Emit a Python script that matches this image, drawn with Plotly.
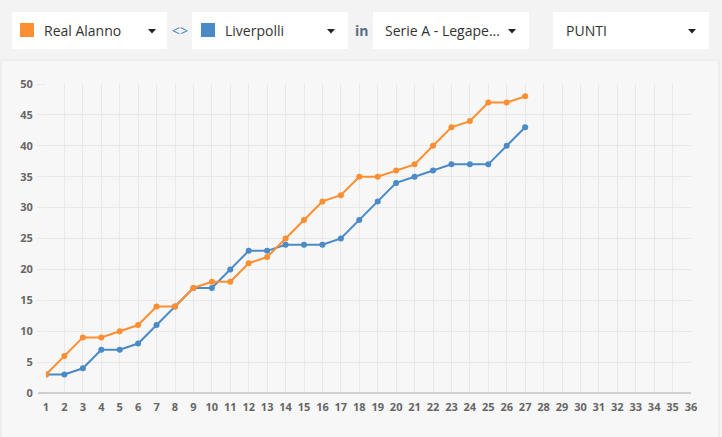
import plotly.graph_objects as go

# Giornate e punti cumulati
giornate = list(range(1, 28))
real_alanno = [3, 6, 9, 9, 10, 11, 14, 14, 17, 18, 18, 21, 22, 25, 28, 31, 32, 35, 35, 36, 37, 40, 43, 44, 47, 47, 48]
liverpolli = [3, 3, 4, 7, 7, 8, 11, 14, 17, 17, 20, 23, 23, 24, 24, 24, 25, 28, 31, 34, 35, 36, 37, 37, 37, 40, 43]
x_ticks = list(range(1, 37))
y_ticks = list(range(0, 51, 5))

ORANGE = "#fd8e31"
BLUE = "#4a8ac6"

W, H = 722, 437
L, R, T, B = 46, 691, 84, 393


def px(x):
    return (x - L) / (R - L)


def py(y):
    return (B - y) / (B - T)


fig = go.Figure()
fig.add_trace(go.Scatter(x=giornate, y=liverpolli, mode="lines+markers", name="Liverpolli",
                         line=dict(color=BLUE, width=2), marker=dict(size=6, color=BLUE)))
fig.add_trace(go.Scatter(x=giornate, y=real_alanno, mode="lines+markers", name="Real Alanno",
                         line=dict(color=ORANGE, width=2), marker=dict(size=6, color=ORANGE)))

shapes = []
# chart panel
shapes.append(dict(type="rect", xref="paper", yref="paper", x0=px(1), x1=px(719), y0=py(445), y1=py(60),
                   fillcolor="#f7f7f7", line=dict(color="#e6e6e6", width=1), layer="below"))
# x axis line, extended left like the tick marks
shapes.append(dict(type="line", xref="paper", yref="paper", x0=px(38), x1=px(691), y0=0, y1=0,
                   line=dict(color="#aaaaaa", width=1.2)))

# dropdown boxes
boxes = [(12, 167), (192, 348), (373, 529), (553, 709)]
for x0, x1 in boxes:
    shapes.append(dict(type="rect", xref="paper", yref="paper", x0=px(x0), x1=px(x1), y0=py(49), y1=py(12),
                       fillcolor="white", line=dict(width=0), layer="below"))
# colour swatches
for x0, c in [(20, ORANGE), (201, BLUE)]:
    shapes.append(dict(type="rect", xref="paper", yref="paper", x0=px(x0), x1=px(x0 + 14), y0=py(37), y1=py(23),
                       fillcolor=c, line=dict(width=0)))
# carets
for cx in [152, 331, 512, 692]:
    shapes.append(dict(type="path", xref="paper", yref="paper",
                       path=f"M {px(cx - 4)} {py(29)} L {px(cx + 4)} {py(29)} L {px(cx)} {py(33.5)} Z",
                       fillcolor="#222222", line=dict(width=0)))

annotations = []
labels = [(42, "Real Alanno"), (223, "Liverpolli"), (383, "Serie A - Legape..."), (564, "PUNTI")]
for x0, t in labels:
    annotations.append(dict(xref="paper", yref="paper", x=px(x0), y=py(30.5), text=t, showarrow=False,
                            xanchor="left", yanchor="middle", font=dict(family="Open Sans", size=14, color="#333333")))
annotations.append(dict(xref="paper", yref="paper", x=px(180), y=py(30), text="&lt;&gt;", showarrow=False,
                        xanchor="center", yanchor="middle", font=dict(family="Open Sans", size=14, color="#4a8ac6")))
annotations.append(dict(xref="paper", yref="paper", x=px(361), y=py(31), text="<b>in</b>", showarrow=False,
                        xanchor="center", yanchor="middle", font=dict(family="Open Sans", size=14, color="#5b6f86")))

fig.update_layout(
    width=W, height=H,
    margin=dict(l=L, r=W - R, t=T, b=H - B, pad=0),
    paper_bgcolor="#f3f3f3",
    plot_bgcolor="rgba(0,0,0,0)",
    showlegend=False,
    shapes=shapes,
    annotations=annotations,
    font=dict(family="Open Sans", color="#666666"),
)
fig.update_xaxes(range=[1, 36], tickvals=x_ticks, showgrid=True, gridcolor="#e8e8e8", gridwidth=1,
                 zeroline=False, showline=False, ticks="", ticklabelstandoff=6,
                 tickfont=dict(family="Open Sans", size=11, color="#666666", weight="bold"), fixedrange=True)
fig.update_yaxes(range=[0, 50], tickvals=y_ticks, showgrid=True, gridcolor="#e8e8e8", gridwidth=1,
                 zeroline=False, showline=False, ticks="outside", ticklen=8, tickcolor="#e8e8e8",
                 ticklabelstandoff=2,
                 tickfont=dict(family="Open Sans", size=11, color="#666666", weight="bold"), fixedrange=True)

fig.write_html("out.html", config={"displayModeBar": False},
               post_script="document.body.style.margin='0';document.body.style.background='#f3f3f3';")
